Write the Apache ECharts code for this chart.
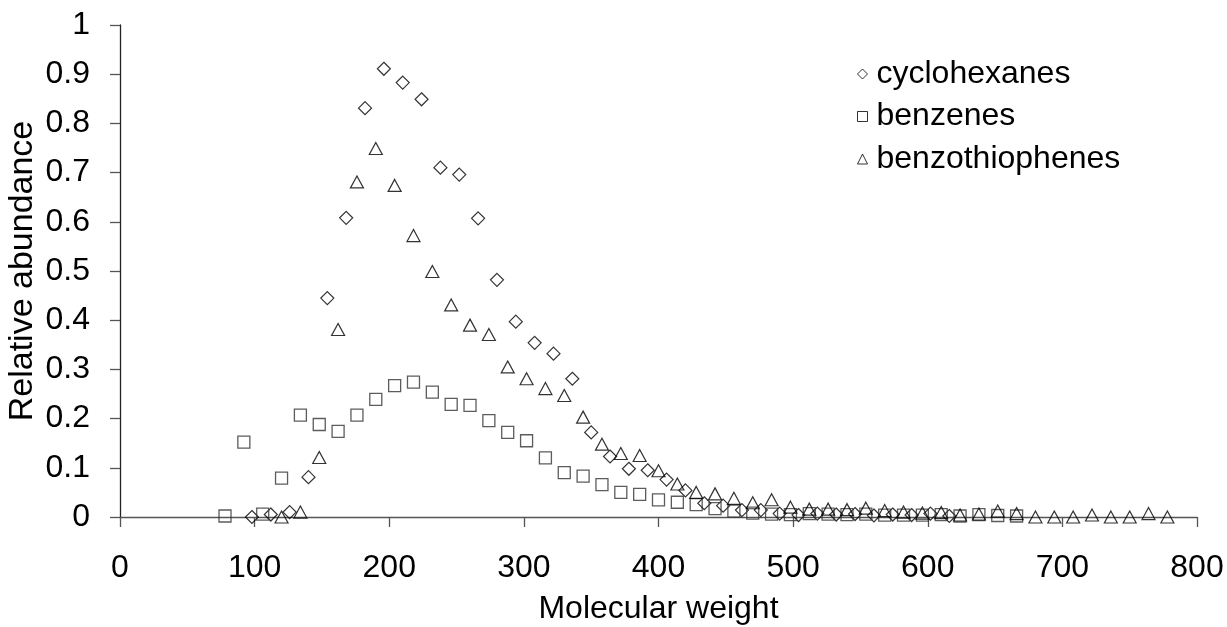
<!DOCTYPE html>
<html>
<head>
<meta charset="utf-8">
<script src="https://cdn.jsdelivr.net/npm/echarts@6/dist/echarts.min.js"></script>
<style>
html,body{margin:0;padding:0;background:#fff;}
#chart{width:1227px;height:627px;}
</style>
</head>
<body>
<div id="chart"></div>
<script>
// Molecular weight (x) and relative abundance (y) for each series
const cycloX = [98,112,126,140,154,168,182,196,210,224,238,252,266,280,294,308,322,336,350,364,378,392,406,420,434,448,462,476,490,504,518,532,546,560,574,588,602,616];
const cycloY = [0.000,0.005,0.010,0.081,0.445,0.608,0.831,0.911,0.883,0.849,0.710,0.696,0.607,0.482,0.397,0.354,0.332,0.281,0.172,0.123,0.098,0.095,0.076,0.054,0.028,0.023,0.014,0.014,0.007,0.004,0.007,0.005,0.006,0.003,0.005,0.004,0.007,0.002];

const benzX = [78,92,106,120,134,148,162,176,190,204,218,232,246,260,274,288,302,316,330,344,358,372,386,400,414,428,442,456,470,484,498,512,526,540,554,568,582,596,610,624,638,652,666];
const benzY = [0.002,0.152,0.006,0.079,0.207,0.188,0.174,0.207,0.239,0.267,0.274,0.254,0.229,0.227,0.196,0.172,0.155,0.120,0.090,0.083,0.066,0.050,0.046,0.035,0.030,0.025,0.017,0.012,0.008,0.006,0.005,0.007,0.006,0.005,0.006,0.004,0.004,0.004,0.005,0.002,0.005,0.003,0.002];

const thioX = [120,134,148,162,176,190,204,218,232,246,260,274,288,302,316,330,344,358,372,386,400,414,428,442,456,470,484,498,512,526,540,554,568,582,596,610,624,638,652,666,680,694,708,722,736,750,764,778];
const thioY = [0.000,0.010,0.121,0.381,0.681,0.749,0.674,0.572,0.499,0.431,0.390,0.371,0.305,0.281,0.261,0.247,0.203,0.148,0.129,0.125,0.094,0.067,0.050,0.047,0.038,0.029,0.035,0.020,0.016,0.016,0.015,0.018,0.013,0.010,0.008,0.009,0.004,0.006,0.012,0.007,0.000,0.000,0.000,0.004,0.000,0.000,0.007,0.000];

const seriesNames = ['cyclohexanes','benzenes','benzothiophenes'];
const xAxisName = 'Molecular weight';
const yAxisName = 'Relative abundance';

function pairs(xs, ys){ return xs.map((x,i)=>[x, ys[i]]); }

const FONT = 'Liberation Sans, Arial, sans-serif';
const chart = echarts.init(document.getElementById('chart'), null, {renderer:'canvas'});

const markerStyle = {color:'rgba(255,255,255,0)', borderColor:'#000', borderWidth:1.2};

chart.setOption({
  animation:false,
  backgroundColor:'#fff',
  grid:{left:120, right:30, top:25, bottom:110, containLabel:false, outerBoundsMode:'none'},
  legend:{
    orient:'vertical', left:852, top:53, itemGap:10.5, itemWidth:10, itemHeight:10,
    textStyle:{fontSize:32, fontFamily:FONT, color:'#000', padding:[0,0,0,4]},
    data:[
      {name:seriesNames[0], icon:'diamond'},
      {name:seriesNames[1], icon:'rect'},
      {name:seriesNames[2], icon:'triangle'}
    ],
    itemStyle:{color:'rgba(255,255,255,0)', borderColor:'#000', borderWidth:1}
  },
  xAxis:{
    type:'value', min:0, max:800, interval:100,
    name:xAxisName, nameLocation:'middle', nameGap:76, nameMoveOverlap:false,
    nameTextStyle:{fontSize:32, fontFamily:FONT, color:'#000'},
    axisLine:{show:true, onZero:false, lineStyle:{color:'#555', width:1.3}},
    axisTick:{show:true, inside:false, length:10, lineStyle:{color:'#555', width:1.3}},
    axisLabel:{fontSize:32, fontFamily:FONT, color:'#000', margin:35},
    splitLine:{show:false}
  },
  yAxis:{
    type:'value', min:0, max:1, interval:0.1,
    name:yAxisName, nameLocation:'middle', nameGap:80, nameMoveOverlap:false,
    nameTextStyle:{fontSize:34, fontFamily:FONT, color:'#000'},
    axisLine:{show:true, onZero:false, lineStyle:{color:'#222', width:1.3}},
    axisTick:{show:true, inside:false, length:10, lineStyle:{color:'#555', width:1.3}},
    axisLabel:{fontSize:32, fontFamily:FONT, color:'#000', margin:30},
    splitLine:{show:false}
  },
  series:[
    {name:seriesNames[0], type:'scatter', symbol:'diamond', symbolSize:13, data:pairs(cycloX, cycloY), itemStyle:markerStyle},
    {name:seriesNames[1], type:'scatter', symbol:'rect', symbolSize:12, data:pairs(benzX, benzY), itemStyle:{color:'rgba(255,255,255,0)', borderColor:'#333', borderWidth:1.3}},
    {name:seriesNames[2], type:'scatter', symbol:'triangle', symbolSize:[13,12], data:pairs(thioX, thioY), itemStyle:markerStyle}
  ]
});
</script>
</body>
</html>
